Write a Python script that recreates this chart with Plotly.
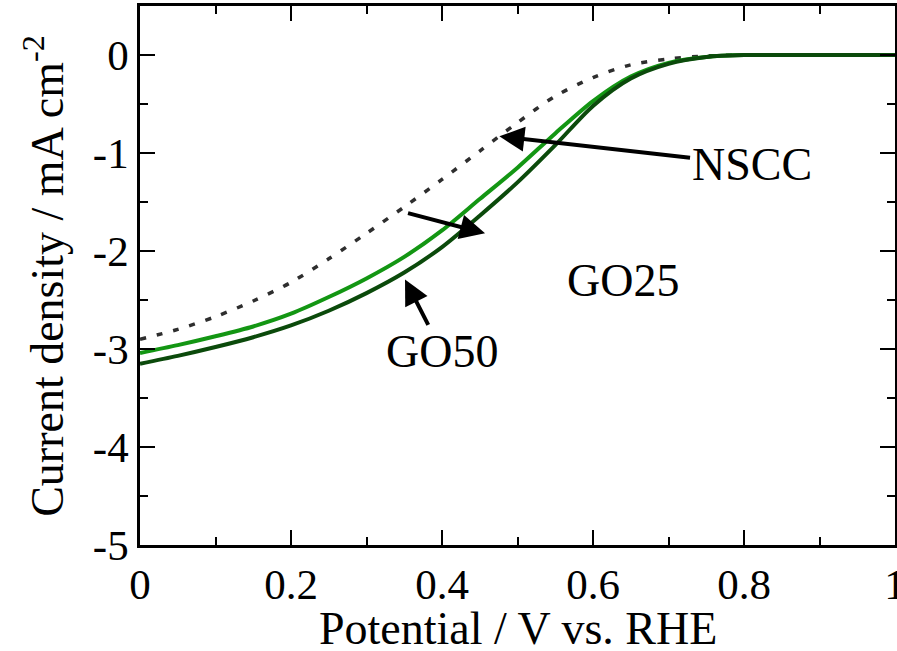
import plotly.graph_objects as go

potential = [0.0, 0.05, 0.1, 0.15, 0.2, 0.25, 0.3, 0.35, 0.4, 0.45, 0.5, 0.55, 0.6, 0.65, 0.7, 0.75, 0.8, 0.85, 0.9, 0.95, 1.0]
go25 = [-3.04, -2.96, -2.87, -2.77, -2.64, -2.47, -2.28, -2.06, -1.79, -1.47, -1.15, -0.80, -0.47, -0.22, -0.08, -0.02, 0.0, 0.0, 0.0, 0.0, 0.0]
go50 = [-3.15, -3.07, -2.98, -2.88, -2.76, -2.61, -2.43, -2.22, -1.96, -1.64, -1.30, -0.92, -0.52, -0.24, -0.09, -0.02, 0.0, 0.0, 0.0, 0.0, 0.0]
nscc = [-2.90, -2.80, -2.67, -2.51, -2.32, -2.08, -1.82, -1.55, -1.27, -0.98, -0.69, -0.42, -0.23, -0.10, -0.04, -0.01, 0.0, 0.0, 0.0, 0.0, 0.0]

x_ticks = [0, 0.2, 0.4, 0.6, 0.8, 1]
x_ticktext = ["0", "0.2", "0.4", "0.6", "0.8", "1"]
y_ticks = [0, -1, -2, -3, -4, -5]
y_ticktext = ["0", "-1", "-2", "-3", "-4", "-5"]

FONT = "Liberation Serif"
TICK_FS = 43
LBL_FS = 46

fig = go.Figure()
fig.add_trace(go.Scatter(x=potential, y=nscc, mode="lines", name="NSCC",
                         line=dict(color="#2e2e2e", width=3.5, dash="6px,11px", shape="spline", smoothing=0.8)))
fig.add_trace(go.Scatter(x=potential, y=go25, mode="lines", name="GO25",
                         line=dict(color="#139613", width=4, shape="spline", smoothing=0.8)))
fig.add_trace(go.Scatter(x=potential, y=go50, mode="lines", name="GO50",
                         line=dict(color="#0b4a0b", width=4, shape="spline", smoothing=0.8)))

axis_common = dict(
    showline=True, linecolor="black", linewidth=2.5, mirror="ticks",
    ticks="inside", ticklen=15, tickwidth=2, tickcolor="black",
    showgrid=False, zeroline=False, automargin=False, ticklabeloverflow="allow",
    tickfont=dict(family=FONT, size=TICK_FS, color="black"),
)
fig.update_xaxes(range=[0, 1], tickvals=x_ticks, ticktext=x_ticktext,
                 minor=dict(dtick=0.1, ticks="inside", ticklen=8, tickwidth=2, tickcolor="black"),
                 **axis_common)
fig.update_yaxes(range=[-5, 0.5], tickvals=y_ticks, ticktext=y_ticktext,
                 minor=dict(dtick=0.5, ticks="inside", ticklen=8, tickwidth=2, tickcolor="black"),
                 **axis_common)

lbl_font = dict(family=FONT, size=LBL_FS, color="black")
arrow = dict(showarrow=True, arrowhead=2, arrowsize=1.25, arrowwidth=4, arrowcolor="black",
             axref="x", ayref="y")
annotations = [
    dict(x=0.476, y=-0.83, ax=0.81, ay=-1.12, text="NSCC", font=lbl_font, **arrow),
    dict(x=0.457, y=-1.82, ax=0.353, ay=-1.61, text="", **arrow),
    dict(x=0.351, y=-2.29, ax=0.40, ay=-3.03, text="GO50", font=lbl_font, **arrow),
    dict(x=0.64, y=-2.30, text="GO25", showarrow=False, font=lbl_font),
    dict(xref="paper", yref="paper", x=0.5, y=-0.154, yanchor="middle", xanchor="center",
         text="Potential / V vs. RHE", showarrow=False, font=lbl_font),
    dict(xref="paper", yref="paper", x=-0.128, y=0.5, yanchor="middle", xanchor="center", textangle=-90,
         text="Current density / mA cm<sup>-2</sup>", showarrow=False, font=lbl_font),
]

fig.update_layout(
    width=897, height=651,
    margin=dict(l=140, r=2, t=6, b=106),
    paper_bgcolor="white", plot_bgcolor="white",
    showlegend=False,
    annotations=annotations,
)

fig.write_html("out.html", config={"displayModeBar": False},
               post_script="document.body.style.margin='0';document.body.style.overflow='hidden';")
